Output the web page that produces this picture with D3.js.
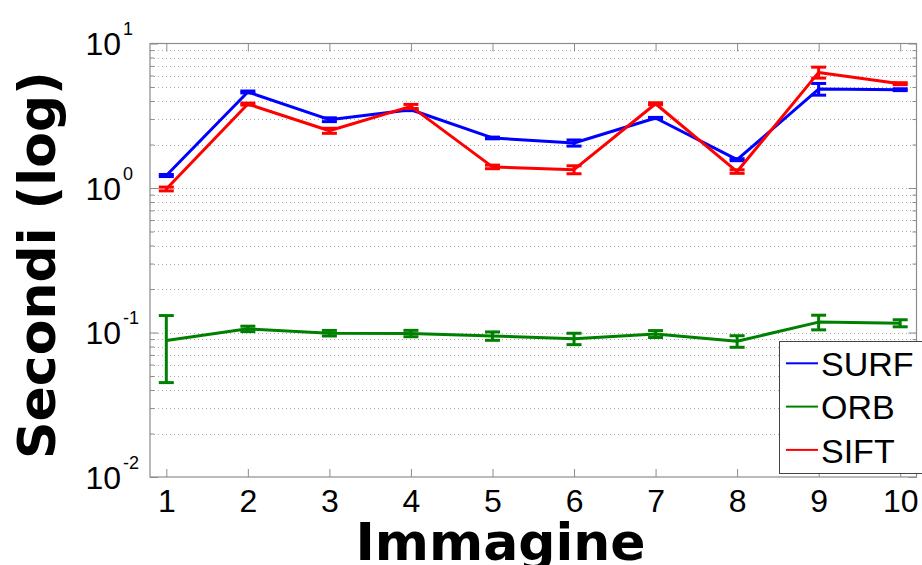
<!DOCTYPE html>
<html><head><meta charset="utf-8">
<script src="https://cdn.jsdelivr.net/npm/d3@7"></script>
<style>body{margin:0;background:#fff}svg{display:block}</style>
</head><body>
<svg id="c" width="922" height="565"></svg>
<script>
// ---- data ----
const images = [1,2,3,4,5,6,7,8,9,10];
const xTickLabels = ["1","2","3","4","5","6","7","8","9","10"];
const yMajorExp = [1,0,-1,-2];
const seriesNames = ["SURF","ORB","SIFT"];
const seriesColors = ["#0000ff","#008000","#ff0000"];
const surfMean = [1.22,4.62,2.97,3.48,2.22,2.05,3.05,1.57,4.84,4.79];
const surfErr  = [0.02,0.07,0.09,0.05,0.03,0.10,0.03,0.025,0.45,0.07];
const orbMean  = [0.088,0.106,0.099,0.0985,0.0946,0.0906,0.0977,0.087,0.118,0.116];
const orbErr   = [0.043,0.0046,0.0044,0.005,0.0063,0.0082,0.0054,0.008,0.0137,0.0065];
const siftMean = [0.985,3.81,2.49,3.67,1.40,1.34,3.83,1.30,6.31,5.27];
const siftErr  = [0.03,0.06,0.10,0.12,0.04,0.085,0.06,0.037,0.55,0.084];
const xLabel = "Immagine";
const yLabel = "Secondi (log)";

const series = [
  {name:seriesNames[0], color:seriesColors[0], mean:surfMean, err:surfErr},
  {name:seriesNames[1], color:seriesColors[1], mean:orbMean, err:orbErr},
  {name:seriesNames[2], color:seriesColors[2], mean:siftMean, err:siftErr}
];

const svg = d3.select("#c");
const L = 150, R = 916.5, T = 43.5, B = 477;
const x = d3.scaleLinear().domain([0.8,10.2]).range([L,R]);
const y = d3.scaleLog().domain([0.01,10]).range([B,T]);

const sansR = "'Liberation Sans', Arial, sans-serif";
const sansB = "'DejaVu Sans', Verdana, sans-serif";

// grid values
const gridVals = [];
for (let k=-2;k<=0;k++) for (let m=1;m<=9;m++) gridVals.push(m*Math.pow(10,k));
gridVals.push(10);

// gridlines (dotted)
svg.append("g").selectAll("line").data(gridVals.filter(v=>v>0.01 && v<10)).join("line")
  .attr("x1",L).attr("x2",R)
  .attr("y1",d=>Math.round(y(d))+0.5).attr("y2",d=>Math.round(y(d))+0.5)
  .attr("stroke","#a8a8a8").attr("stroke-width",1).attr("stroke-dasharray","1,3");

// box
svg.append("rect").attr("x",L).attr("y",T).attr("width",R-L).attr("height",B-T)
  .attr("fill","none").attr("stroke","#8c8c8c").attr("stroke-width",1.2);

// x axes (bottom/top) with inward ticks
const xAxisB = d3.axisBottom(x).tickValues(images).tickFormat((d,i)=>xTickLabels[i]).tickSize(-8).tickPadding(12);
const gxb = svg.append("g").attr("transform",`translate(0,${B})`).call(xAxisB);
gxb.select(".domain").remove();
gxb.selectAll("line").attr("stroke","#8c8c8c");
gxb.selectAll("text").attr("font-family",sansR).attr("font-size",32).attr("fill","#000");
const gxt = svg.append("g").attr("transform",`translate(0,${T})`).call(d3.axisTop(x).tickValues(images).tickFormat("").tickSize(-8));
gxt.select(".domain").remove();
gxt.selectAll("line").attr("stroke","#8c8c8c");

// y ticks left/right
const majorVals = yMajorExp.map(e=>Math.pow(10,e));
const minorVals = gridVals.filter(v=>!majorVals.some(m=>Math.abs(m-v)<1e-9));
[[d3.axisLeft, L, -8, majorVals],[d3.axisLeft, L, -4, minorVals],[d3.axisRight, R, -8, majorVals],[d3.axisRight, R, -4, minorVals]].forEach(([ax,pos,sz,vals])=>{
  const g = svg.append("g").attr("transform",`translate(${pos},0)`).call(ax(y).tickValues(vals).tickFormat("").tickSize(sz));
  g.select(".domain").remove();
  g.selectAll("line").attr("stroke","#8c8c8c");
});

// y tick labels 10^k
const yl = svg.append("g").selectAll("text").data(yMajorExp).join("text")
  .attr("x",85.5).attr("y",d=>y(Math.pow(10,d))+11.5)
  .attr("font-family",sansR).attr("font-size",32).attr("fill","#000");
yl.append("tspan").text("10");
yl.append("tspan").attr("font-size",18).attr("dy",-20).attr("dx",2).text(d=>String(d));

// series
const line = d3.line().x((d,i)=>x(images[i])).y(d=>y(d));
series.forEach(s=>{
  const g = svg.append("g");
  g.append("path").attr("d",line(s.mean)).attr("fill","none").attr("stroke",s.color).attr("stroke-width",3).attr("stroke-linejoin","round");
  const cw = 7.5;
  images.forEach((xi,i)=>{
    const lo = y(s.mean[i]-s.err[i]), hi = y(s.mean[i]+s.err[i]), cx = x(xi);
    g.append("line").attr("x1",cx).attr("x2",cx).attr("y1",lo).attr("y2",hi).attr("stroke",s.color).attr("stroke-width",3);
    g.append("line").attr("x1",cx-cw).attr("x2",cx+cw).attr("y1",lo).attr("y2",lo).attr("stroke",s.color).attr("stroke-width",3);
    g.append("line").attr("x1",cx-cw).attr("x2",cx+cw).attr("y1",hi).attr("y2",hi).attr("stroke",s.color).attr("stroke-width",3);
  });
});

// legend
const lg = svg.append("g");
lg.append("rect").attr("x",779.5).attr("y",341.5).attr("width",160).attr("height",132)
  .attr("fill","#fff").attr("stroke","#444").attr("stroke-width",1);
series.forEach((s,i)=>{
  const cy = 363.3 + i*43.3;
  lg.append("line").attr("x1",786).attr("x2",818).attr("y1",cy).attr("y2",cy).attr("stroke",s.color).attr("stroke-width",2);
  lg.append("text").attr("x",821).attr("y",376+i*43.3).attr("font-family",sansR).attr("font-size",34).attr("fill","#000").text(s.name);
});

// axis labels
svg.append("text").attr("x",500.5).attr("y",559.5).attr("text-anchor","middle")
  .attr("font-family",sansB).attr("font-weight","bold").attr("font-size",52).attr("fill","#000").text(xLabel);
svg.append("text").attr("transform","translate(55,265) rotate(-90)").attr("text-anchor","middle")
  .attr("font-family",sansB).attr("font-weight","bold").attr("font-size",52).attr("fill","#000").text(yLabel);
</script>
</body></html>
